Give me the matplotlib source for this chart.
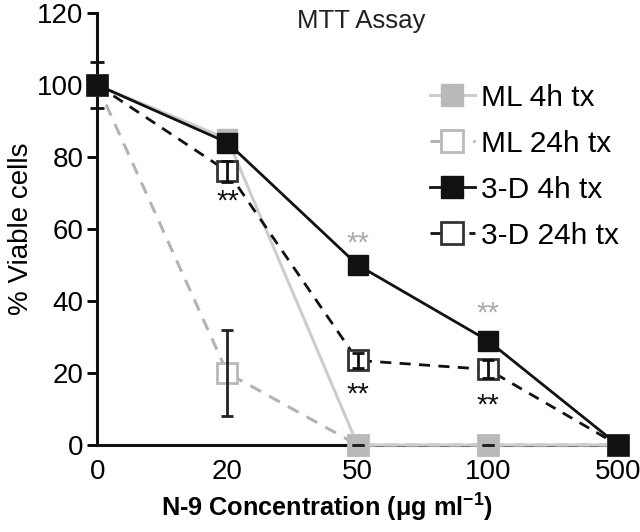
import matplotlib.pyplot as plt
import numpy as np

plt.rcParams['font.family'] = ['Liberation Sans', 'DejaVu Sans']
plt.rcParams['mathtext.fontset'] = 'custom'
plt.rcParams['mathtext.rm'] = 'Liberation Sans:bold'
plt.rcParams['mathtext.it'] = 'Liberation Sans:bold'
plt.rcParams['mathtext.bf'] = 'Liberation Sans:bold'

# data
concs = ['0', '20', '50', '100', '500']
ml_4h = [100, 85, 0, 0, 0]
ml_24h = [100, 20, 0, 0, 0]
ml_24h_err = [0, 12, 0, 0, 0]
d3_4h = [100, 84, 50, 29, 0]
d3_4h_err = [6.5, 0, 0, 0, 0]
d3_24h = [100, 76, 23.5, 21, 0]
d3_24h_err = [0, 3, 2, 2.5, 0]

# significance marks: (x index, y)
stars_black = [(1, 67.5), (2, 14), (3, 11)]
stars_gray = [(2, 56), (3, 36.5)]

x = np.arange(len(concs))

fig = plt.figure(figsize=(6.4, 5.32), dpi=100)
ax = fig.add_axes([0.152, 0.1635, 0.826, 0.812])

gray_fill = '#b9b9b9'
gray_line = '#cdcdcd'
gray_dash = '#b3b3b3'
ms = 14


def no_clip(container):
    for art in container.get_children():
        art.set_clip_on(False)


ax.plot(x, ml_24h, '--', color=gray_dash, lw=2.2, marker='s', ms=ms,
        mfc='white', mec=gray_fill, mew=2, dashes=(4, 3),
        label='ML 24h tx', clip_on=False, zorder=3)
no_clip(ax.errorbar(x, ml_24h, yerr=ml_24h_err, fmt='none', ecolor='#222222',
                    elinewidth=2, capsize=4, capthick=2, zorder=4))
ax.plot(x, ml_4h, '-', color=gray_line, lw=2.2, marker='s', ms=ms,
        mfc=gray_fill, mec=gray_fill, label='ML 4h tx', clip_on=False, zorder=3.5)

ax.plot(x, d3_24h, '--', color='#111111', lw=2, marker='s', ms=ms,
        mfc='white', mec='#333333', mew=2, dashes=(4, 3),
        label='3-D 24h tx', clip_on=False, zorder=5)
no_clip(ax.errorbar(x, d3_24h, yerr=d3_24h_err, fmt='none', ecolor='#111111',
                    elinewidth=2, capsize=4, capthick=2, zorder=5.5))
no_clip(ax.errorbar(x, d3_4h, yerr=d3_4h_err, fmt='none', ecolor='#111111',
                    elinewidth=2, capsize=5, capthick=2, zorder=4))
ax.plot(x, d3_4h, '-', color='#111111', lw=2, marker='s', ms=ms,
        mfc='#111111', mec='#111111', label='3-D 4h tx', clip_on=False, zorder=6)

for i, y in stars_black:
    ax.text(x[i], y, '**', ha='center', va='center', fontsize=21, color='#111111')
for i, y in stars_gray:
    ax.text(x[i], y, '**', ha='center', va='center', fontsize=21, color='#aaaaaa')

ax.set_xlim(0, 4.06)
ax.set_ylim(0, 120)
ax.set_xticks(x)
ax.set_xticklabels(concs)
ax.set_yticks(np.arange(0, 121, 20))
ax.tick_params(axis='y', direction='out', length=7, width=2, labelsize=20, pad=3)
ax.tick_params(axis='x', length=0, labelsize=20, pad=10)

for side in ['top', 'right']:
    ax.spines[side].set_visible(False)
for side in ['left', 'bottom']:
    ax.spines[side].set_linewidth(2.2)
    ax.spines[side].set_color('#111111')

ax.set_ylabel('% Viable cells', fontsize=20, labelpad=2)
ax.set_xlabel(r'N-9 Concentration ($\mathrm{\mu}$g ml$^{-1}$)', fontsize=18.2,
              fontweight='bold')
ax.xaxis.set_label_coords(0.435, -0.108)
ax.text(0.5, 0.982, 'MTT Assay', transform=ax.transAxes, ha='center', va='center',
        fontsize=18.5, color='#222222')

handles, labels = ax.get_legend_handles_labels()
order = [1, 0, 3, 2]
ax.legend([handles[i] for i in order], [labels[i] for i in order],
          loc='upper left', bbox_to_anchor=(0.630, 0.893), bbox_transform=fig.transFigure,
          frameon=False, fontsize=21.5, handlelength=1.5, handletextpad=0.2,
          labelspacing=0.6, markerscale=1.1)

fig.savefig('out.png', dpi=100)
